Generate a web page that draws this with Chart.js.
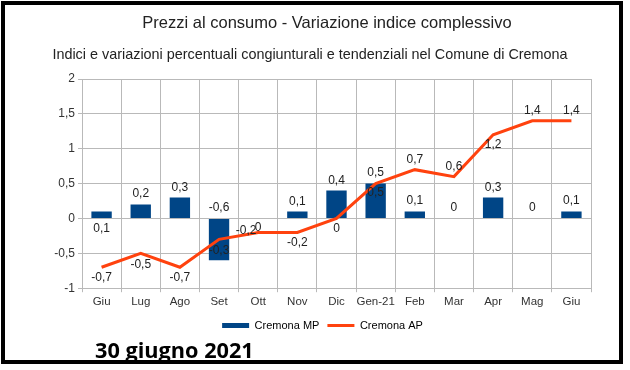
<!DOCTYPE html>
<html>
<head>
<meta charset="utf-8">
<script src="https://cdn.jsdelivr.net/npm/chart.js@4"></script>
<style>
    body { margin: 0; background: #fff; }
    #wrap { position: relative; width: 630px; height: 370px; }
    #cornice { position: absolute; left: 1px; top: 1px; width: 614px; height: 355px; border: 4px solid #000; pointer-events: none; }
    #data { position: absolute; left: 95px; top: 339px; font: bold 21.7px/22px "Open Sans", sans-serif; color: #000; white-space: nowrap; }
</style>
</head>
<body>
<div id="wrap">
    <canvas id="chartCremona" width="630" height="370"></canvas>
    <div id="cornice"></div>
    <div id="data">30 giugno 2021</div>
</div>
<script>
const mesi = ['Giu', 'Lug', 'Ago', 'Set', 'Ott', 'Nov', 'Dic', 'Gen-21', 'Feb', 'Mar', 'Apr', 'Mag', 'Giu'];
const cremonaMP = [0.1, 0.2, 0.3, -0.6, 0, 0.1, 0.4, 0.5, 0.1, 0, 0.3, 0, 0.1];
const cremonaAP = [-0.7, -0.5, -0.7, -0.3, -0.2, -0.2, 0, 0.5, 0.7, 0.6, 1.2, 1.4, 1.4];
const asseY = [-1, -0.5, 0, 0.5, 1, 1.5, 2];

const titolo = 'Prezzi al consumo - Variazione indice complessivo';
const sottotitolo = 'Indici e variazioni percentuali congiunturali e tendenziali nel Comune di Cremona';

// spostamento delle etichette rispetto al punto (px)
const dyMP = [17, -11, -10, -53, 9, -10, -10, 9, -11, -11, -10, -11, -11];
const dyAP = [10, 11, 10, 11, -2, 10, 10, -11, -10, -10, 10, -10, -10];
const dxAP = [0, 0, 0, 0, -12, 0, 0, 0, 0, 0, 0, 0, 0];

const fontBase = '"Liberation Sans", Arial, sans-serif';

function virgola(v) {
    return String(v).replace('.', ',');
}

// titolo, sottotitolo ed etichette dei valori
const etichette = {
    id: 'etichette',
    afterLayout(chart) {
        // la legenda nell'originale e' centrata sulla pagina, non sul grafico
        chart.legend.left += 27;
        chart.legend.right += 27;
    },
    afterDraw(chart) {
        const ctx = chart.ctx;
        ctx.save();
        ctx.fillStyle = '#222';
        ctx.textAlign = 'center';
        ctx.textBaseline = 'alphabetic';
        ctx.font = '16.5px ' + fontBase;
        ctx.fillText(titolo, 327, 28);
        ctx.font = '14.4px ' + fontBase;
        ctx.fillText(sottotitolo, 310, 58.5);
        ctx.restore();
    },
    afterDatasetsDraw(chart) {
        const ctx = chart.ctx;
        ctx.save();
        ctx.font = '12px ' + fontBase;
        ctx.fillStyle = '#222';
        ctx.textAlign = 'center';
        ctx.textBaseline = 'middle';
        chart.getDatasetMeta(0).data.forEach(function (el, i) {
            ctx.fillText(virgola(cremonaMP[i]), el.x, el.y + dyMP[i]);
        });
        chart.getDatasetMeta(1).data.forEach(function (el, i) {
            ctx.fillText(virgola(cremonaAP[i]), el.x + dxAP[i], el.y + dyAP[i]);
        });
        ctx.restore();
    }
};

const griglia = '#b9b9b9';

const chartCremona = new Chart(document.getElementById('chartCremona'), {
    type: 'bar',
    data: {
        labels: mesi,
        datasets: [
            {
                label: 'Cremona MP',
                data: cremonaMP,
                backgroundColor: '#004586',
                barPercentage: 0.52,
                categoryPercentage: 1,
                order: 1
            },
            {
                type: 'line',
                label: 'Cremona AP',
                data: cremonaAP,
                borderColor: '#ff420e',
                backgroundColor: '#ff420e',
                borderWidth: 3,
                pointRadius: 0,
                tension: 0,
                order: 0
            }
        ]
    },
    options: {
        responsive: false,
        animation: false,
        layout: { padding: { left: 0, right: 39, top: 79, bottom: 29 } },
        plugins: {
            title: { display: false },
            subtitle: { display: false },
            legend: {
                position: 'bottom',
                labels: {
                    color: '#333',
                    font: { family: fontBase, size: 11 },
                    usePointStyle: true,
                    pointStyleWidth: 27,
                    boxHeight: 5,
                    padding: 8,
                    generateLabels: function (chart) {
                        return [
                            { text: 'Cremona MP', fillStyle: '#004586', strokeStyle: '#004586', lineWidth: 0, pointStyle: 'rect', datasetIndex: 0 },
                            { text: 'Cremona AP', fillStyle: '#ff420e', strokeStyle: '#ff420e', lineWidth: 3, pointStyle: 'line', datasetIndex: 1 }
                        ];
                    }
                }
            },
            tooltip: { enabled: false }
        },
        scales: {
            x: {
                grid: { color: griglia, offset: true, tickLength: 4 },
                border: { color: griglia },
                ticks: {
                    color: '#333',
                    font: { family: fontBase, size: 11.5 },
                    maxRotation: 0,
                    autoSkip: false,
                    padding: 3
                }
            },
            y: {
                min: asseY[0],
                max: asseY[asseY.length - 1],
                afterFit: function (scale) { scale.width = 82; },
                afterBuildTicks: function (scale) {
                    scale.ticks = asseY.map(function (v) { return { value: v }; });
                },
                grid: { color: griglia, tickLength: 4 },
                border: { color: griglia },
                ticks: {
                    color: '#333',
                    font: { family: fontBase, size: 12 },
                    padding: 3,
                    callback: function (v) { return virgola(v); }
                }
            }
        }
    },
    plugins: [etichette]
});
</script>
</body>
</html>
